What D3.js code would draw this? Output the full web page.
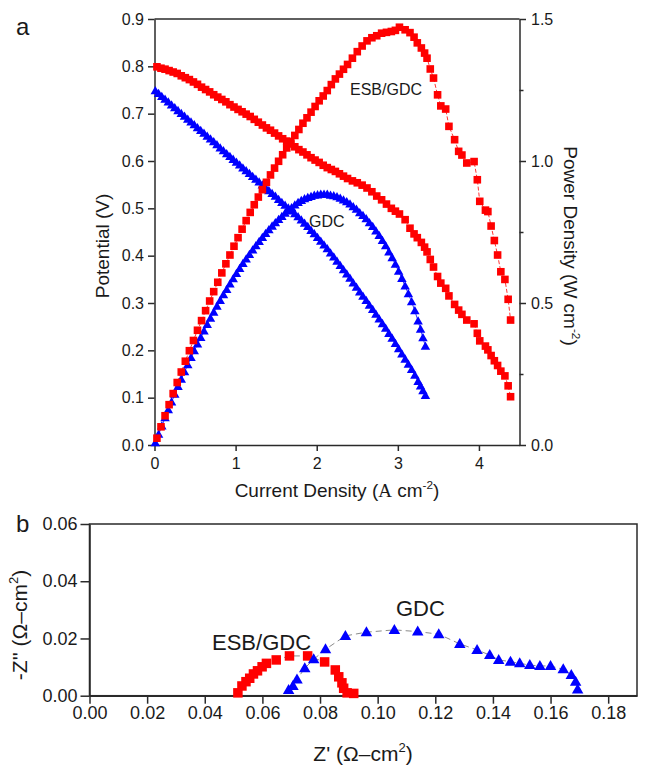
<!DOCTYPE html>
<html><head><meta charset="utf-8">
<script src="https://cdn.jsdelivr.net/npm/d3@7"></script>
<style>
body{margin:0;background:#fff}
svg{display:block}
text{font-family:"Liberation Sans",Arial,sans-serif;fill:#1a1a1a}
</style>
</head><body>
<svg id="chart" width="645" height="770"></svg>
<script>
// ---------- Panel a : ESB/GDC cell ----------
const currentESB = [0.03,0.08,0.13,0.18,0.23,0.28,0.33,0.38,0.43,0.48,0.53,0.58,0.63,0.68,0.73,0.78,0.83,0.88,0.93,0.98,
  1.03,1.08,1.13,1.18,1.23,1.28,1.33,1.38,1.43,1.48,1.53,1.58,1.63,1.68,1.73,1.78,1.83,1.88,1.93,1.98,
  2.03,2.08,2.13,2.18,2.23,2.28,2.33,2.38,
  2.44,2.50,2.56,2.62,2.68,2.74,2.80,2.86,2.92,2.97,3.02,3.09,3.15,3.20,3.24,3.29,3.33,3.36,3.40,3.44,
  3.49,3.53,3.59,3.63,3.70,3.75,3.79,3.85,3.94,3.98,4.01,4.08,4.11,4.15,4.19,4.23,4.27,4.32,4.36,4.39];
const potentialESB = [0.799,0.796,0.794,0.791,0.788,0.785,0.780,0.776,0.772,0.767,0.762,0.756,0.751,0.746,0.740,0.735,0.730,0.725,0.719,0.714,
  0.709,0.704,0.699,0.694,0.688,0.682,0.676,0.670,0.665,0.659,0.653,0.647,0.642,0.636,0.630,0.624,0.619,0.613,0.607,0.602,
  0.597,0.591,0.586,0.582,0.578,0.573,0.568,0.563,
  0.558,0.554,0.549,0.543,0.535,0.526,0.518,0.509,0.500,0.494,0.488,0.476,0.458,0.446,0.438,0.428,0.418,0.408,0.392,0.376,
  0.356,0.342,0.331,0.315,0.297,0.285,0.276,0.264,0.256,0.236,0.220,0.209,0.201,0.189,0.178,0.168,0.156,0.146,0.125,0.102];
const powerESB = [0.024,0.064,0.103,0.142,0.181,0.220,0.257,0.295,0.332,0.368,0.404,0.438,0.473,0.507,0.540,0.573,0.606,0.638,0.669,0.700,
  0.730,0.760,0.790,0.819,0.846,0.873,0.899,0.925,0.951,0.975,0.999,1.022,1.046,1.068,1.090,1.111,1.133,1.152,1.172,1.192,
  1.212,1.229,1.248,1.269,1.289,1.306,1.323,1.340,
  1.362,1.385,1.405,1.423,1.434,1.441,1.450,1.453,1.456,1.460,1.471,1.462,1.452,1.436,1.416,1.398,1.380,1.362,1.324,1.292,
  1.233,1.194,1.183,1.122,1.075,1.034,1.021,0.993,0.998,0.934,0.858,0.827,0.822,0.771,0.720,0.669,0.610,0.583,0.513,0.440];

// ---------- Panel a : GDC cell ----------
const currentGDC = [0.01,0.05,0.09,0.13,0.17,0.21,0.25,0.29,0.33,0.37,0.41,0.45,0.49,0.53,0.57,0.61,0.65,0.69,0.73,0.77,
  0.81,0.85,0.89,0.93,0.97,1.01,1.05,1.09,1.13,1.17,1.21,1.25,1.29,1.33,1.37,1.41,1.45,1.49,1.53,1.57,
  1.61,1.65,1.69,1.73,1.77,1.81,1.85,1.89,1.93,1.97,2.01,2.05,2.09,2.13,2.17,2.21,2.25,2.29,2.33,2.37,
  2.41,2.45,2.49,2.53,2.57,2.61,2.65,2.69,2.73,2.77,2.81,2.85,2.89,2.93,2.97,3.01,3.05,3.09,3.13,3.17,
  3.21,3.25,3.28,3.31,3.34];
const potentialGDC = [0.748,0.742,0.736,0.730,0.724,0.718,0.712,0.706,0.700,0.694,0.688,0.682,0.676,0.670,0.664,0.658,0.652,0.646,0.640,0.634,
  0.627,0.621,0.615,0.609,0.603,0.597,0.591,0.585,0.579,0.573,0.567,0.561,0.555,0.549,0.543,0.537,0.531,0.525,0.518,0.512,
  0.506,0.500,0.494,0.488,0.482,0.475,0.468,0.461,0.453,0.446,0.438,0.430,0.422,0.414,0.405,0.397,0.388,0.379,0.370,0.361,
  0.352,0.342,0.333,0.323,0.314,0.305,0.295,0.286,0.276,0.266,0.256,0.246,0.235,0.225,0.214,0.203,0.192,0.181,0.170,0.159,
  0.147,0.134,0.124,0.114,0.104];
const powerGDC = [0.007,0.037,0.066,0.095,0.123,0.151,0.178,0.205,0.231,0.257,0.282,0.307,0.331,0.355,0.378,0.401,0.424,0.446,0.467,0.488,
  0.508,0.528,0.547,0.566,0.585,0.603,0.621,0.638,0.654,0.670,0.686,0.701,0.716,0.730,0.744,0.757,0.770,0.782,0.793,0.804,
  0.815,0.825,0.835,0.844,0.853,0.860,0.866,0.871,0.874,0.879,0.880,0.882,0.882,0.882,0.879,0.877,0.873,0.868,0.862,0.856,
  0.848,0.838,0.829,0.817,0.807,0.796,0.782,0.769,0.753,0.737,0.719,0.701,0.679,0.659,0.636,0.611,0.586,0.559,0.532,0.504,
  0.472,0.436,0.407,0.377,0.347];

// ---------- Panel b : impedance ----------
const zReESB = [0.0515,0.0529,0.0543,0.0556,0.0569,0.0583,0.0599,0.0614,0.0648,0.0694,0.0757,0.0816,0.0853,0.0865,0.0876,0.0882,0.0894,0.0917];
const zImESB = [0.0010,0.0034,0.0049,0.0061,0.0076,0.0087,0.0101,0.0113,0.0125,0.0139,0.0139,0.0118,0.0090,0.0066,0.0045,0.0026,0.0010,0.0008];
const zReGDC = [0.0691,0.0706,0.0720,0.0747,0.0778,0.0819,0.0888,0.0961,0.1058,0.1139,0.1212,0.1285,0.1345,0.1389,0.1420,0.1461,0.1493,0.1528,0.1563,0.1600,0.1644,0.1672,0.1687,0.1694];
const zImGDC = [0.0020,0.0034,0.0057,0.0096,0.0127,0.0162,0.0209,0.0222,0.0230,0.0224,0.0215,0.0181,0.0160,0.0142,0.0125,0.0119,0.0113,0.0107,0.0104,0.0104,0.0092,0.0072,0.0049,0.0022];

// ---------- ticks ----------
const xTicksA = [0,1,2,3,4];
const yTicksA = [0,0.1,0.2,0.3,0.4,0.5,0.6,0.7,0.8,0.9];
const yTicksRight = [0,0.5,1.0,1.5];
const yMinorRight = [0.25,0.75,1.25];
const xTicksB = [0,0.02,0.04,0.06,0.08,0.10,0.12,0.14,0.16,0.18];
const yTicksB = [0,0.02,0.04,0.06];

const RED = "#ff0000", BLUE = "#0000ff", AX = "#2a2a2a";
const svg = d3.select("#chart");

function tri(cx, cy, w) {
  const h = w * 0.87;
  return `M${cx},${cy - h * 0.6}L${cx + w / 2},${cy + h * 0.4}L${cx - w / 2},${cy + h * 0.4}Z`;
}
function styleAxis(g, fs) {
  g.select(".domain").attr("stroke", AX).attr("stroke-width", 1.5);
  g.selectAll(".tick line").attr("stroke", AX).attr("stroke-width", 1.5);
  g.selectAll(".tick text").attr("font-size", fs).attr("fill", "#1a1a1a")
    .attr("font-family", '"Liberation Sans", Arial, sans-serif');
}
function rich(parent, parts, attrs, fs) {
  const t = parent.append("text");
  Object.entries(attrs).forEach(([k, v]) => t.attr(k, v));
  t.attr("font-size", fs);
  let shift = 0;
  parts.forEach(p => {
    const s = t.append("tspan").text(p.t);
    if (p.serif) s.attr("font-family", '"Liberation Serif", "Times New Roman", serif');
    if (p.sup) {
      const up = -fs * 0.42;
      s.attr("font-size", fs * 0.62).attr("dy", up - shift);
      shift = up;
    } else if (shift !== 0) {
      s.attr("dy", -shift);
      shift = 0;
    }
  });
  return t;
}

// =================== PANEL A ===================
const A = {l: 154.5, r: 519.5, t: 19, b: 445};
const x = d3.scaleLinear().domain([0, 4.5]).range([A.l, A.r]);
const yL = d3.scaleLinear().domain([0, 0.9]).range([A.b, A.t]);
const yR = d3.scaleLinear().domain([0, 1.5]).range([A.b, A.t]);
const gA = svg.append("g");

gA.append("line").attr("x1", A.l).attr("x2", A.r).attr("y1", A.t).attr("y2", A.t)
  .attr("stroke", AX).attr("stroke-width", 1.5);

const axB = gA.append("g").attr("transform", `translate(0,${A.b})`)
  .call(d3.axisBottom(x).tickValues(xTicksA).tickFormat(d3.format("d")).tickSize(6).tickPadding(7).tickSizeOuter(0));
styleAxis(axB, 16);
const axL = gA.append("g").attr("transform", `translate(${A.l},0)`)
  .call(d3.axisLeft(yL).tickValues(yTicksA).tickFormat(d3.format(".1f")).tickSize(6.5).tickPadding(4).tickSizeOuter(0));
styleAxis(axL, 16);
const axR = gA.append("g").attr("transform", `translate(${A.r},0)`)
  .call(d3.axisRight(yR).tickValues(yTicksRight).tickFormat(d3.format(".1f")).tickSize(6.5).tickPadding(5).tickSizeOuter(0));
styleAxis(axR, 16);
const axRm = gA.append("g").attr("transform", `translate(${A.r},0)`)
  .call(d3.axisRight(yR).tickValues(yMinorRight).tickFormat("").tickSize(4).tickSizeOuter(0));
styleAxis(axRm, 16);
axRm.select(".domain").remove();

const esb = currentESB.map((c, i) => ({c, v: potentialESB[i], p: powerESB[i]}));
const gdc = currentGDC.map((c, i) => ({c, v: potentialGDC[i], p: powerGDC[i]}));

const lineV = d3.line().x(d => x(d.c)).y(d => yL(d.v));
const lineP = d3.line().x(d => x(d.c)).y(d => yR(d.p));
gA.append("path").attr("d", lineV(gdc)).attr("fill", "none").attr("stroke", BLUE).attr("stroke-width", 0.8);
gA.append("path").attr("d", lineP(gdc)).attr("fill", "none").attr("stroke", BLUE).attr("stroke-width", 0.8);
gA.append("path").attr("d", lineV(esb)).attr("fill", "none").attr("stroke", RED).attr("stroke-width", 0.8).attr("stroke-dasharray", "4,2");
gA.append("path").attr("d", lineP(esb)).attr("fill", "none").attr("stroke", RED).attr("stroke-width", 0.8).attr("stroke-dasharray", "4,2");

const tw = 9.5;
gA.selectAll(".gv").data(gdc).join("path").attr("d", d => tri(x(d.c), yL(d.v), tw)).attr("fill", BLUE);
gA.selectAll(".gp").data(gdc).join("path").attr("d", d => tri(x(d.c), yR(d.p), tw)).attr("fill", BLUE);
const sq = 7.6;
gA.selectAll(".ev").data(esb).join("rect").attr("x", d => x(d.c) - sq / 2).attr("y", d => yL(d.v) - sq / 2)
  .attr("width", sq).attr("height", sq).attr("fill", RED);
gA.selectAll(".ep").data(esb).join("rect").attr("x", d => x(d.c) - sq / 2).attr("y", d => yR(d.p) - sq / 2)
  .attr("width", sq).attr("height", sq).attr("fill", RED);

gA.append("text").attr("x", 350).attr("y", 95).attr("font-size", 16).text("ESB/GDC");
gA.append("text").attr("x", 309).attr("y", 227).attr("font-size", 16).text("GDC");
gA.append("text").attr("x", 16).attr("y", 35).attr("font-size", 24).text("a");

rich(gA, [{t: "Potential (V)"}], {transform: "translate(109,246) rotate(-90)", "text-anchor": "middle"}, 19);
rich(gA, [{t: "Current Density ("}, {t: "A", serif: true}, {t: " cm"}, {t: "-2", sup: true}, {t: ")"}],
  {x: 337, y: 497, "text-anchor": "middle"}, 19);
rich(gA, [{t: "Power Density (W cm"}, {t: "-2", sup: true}, {t: ")"}],
  {transform: "translate(564,246) rotate(90)", "text-anchor": "middle"}, 19);

// =================== PANEL B ===================
const B = {l: 89.5, r: 637, t: 524, b: 695.7};
const xb = d3.scaleLinear().domain([0, 0.19]).range([B.l, B.r]);
const yb = d3.scaleLinear().domain([0, 0.06]).range([B.b, B.t]);
const gB = svg.append("g");
gB.append("rect").attr("x", B.l).attr("y", B.t).attr("width", B.r - B.l).attr("height", B.b - B.t)
  .attr("fill", "none").attr("stroke", AX).attr("stroke-width", 1.5);
const bxB = gB.append("g").attr("transform", `translate(0,${B.b})`)
  .call(d3.axisBottom(xb).tickValues(xTicksB).tickFormat(d3.format(".2f")).tickSize(8).tickPadding(3).tickSizeOuter(0));
styleAxis(bxB, 18);
const bxL = gB.append("g").attr("transform", `translate(${B.l},0)`)
  .call(d3.axisLeft(yb).tickValues(yTicksB).tickFormat(d3.format(".2f")).tickSize(9).tickPadding(3).tickSizeOuter(0));
styleAxis(bxL, 18);

const eis1 = zReESB.map((r, i) => ({r, m: zImESB[i]}));
const eis2 = zReGDC.map((r, i) => ({r, m: zImGDC[i]}));
const lineZ = d3.line().x(d => xb(d.r)).y(d => yb(d.m));
gB.append("path").attr("d", lineZ(eis1)).attr("fill", "none").attr("stroke", "#8a8a8a").attr("stroke-width", 1).attr("stroke-dasharray", "6,4");
gB.append("path").attr("d", lineZ(eis2)).attr("fill", "none").attr("stroke", "#8a8a8a").attr("stroke-width", 1).attr("stroke-dasharray", "6,4");
const sqb = 9.5;
gB.selectAll(".bz").data(eis1).join("rect").attr("x", d => xb(d.r) - sqb / 2).attr("y", d => yb(d.m) - sqb / 2)
  .attr("width", sqb).attr("height", sqb).attr("fill", RED);
gB.selectAll(".gz").data(eis2).join("path").attr("d", d => tri(xb(d.r), yb(d.m), 11.5)).attr("fill", BLUE);

gB.append("text").attr("x", 212).attr("y", 650).attr("font-size", 22).text("ESB/GDC");
gB.append("text").attr("x", 396).attr("y", 616).attr("font-size", 22).text("GDC");
gB.append("text").attr("x", 16).attr("y", 532).attr("font-size", 24).text("b");

rich(gB, [{t: "Z' (Ω–cm"}, {t: "2", sup: true}, {t: ")"}], {x: 363, y: 761, "text-anchor": "middle"}, 21);
rich(gB, [{t: "-Z'' (Ω–cm"}, {t: "2", sup: true}, {t: ")"}], {transform: "translate(27,625) rotate(-90)", "text-anchor": "middle"}, 21);
</script>
</body></html>
